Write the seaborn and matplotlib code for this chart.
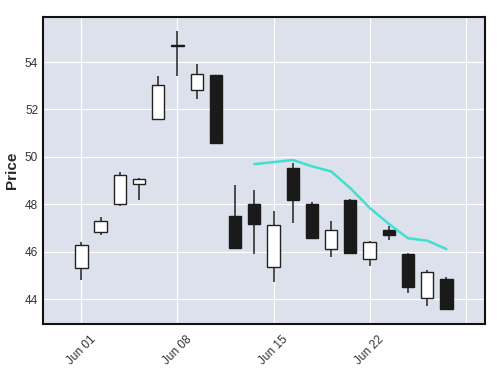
import pandas as pd
import matplotlib
matplotlib.use("Agg")
import matplotlib.pyplot as plt
import numpy as np
import seaborn as sns

# daily OHLC, June (trading days only)
dates = pd.bdate_range("2020-06-01", periods=20)
opens = [45.31, 46.81, 48.00, 48.86, 51.59, 54.70, 52.83, 53.44, 47.50, 48.02,
         45.35, 49.54, 48.00, 46.10, 48.18, 45.67, 46.90, 45.90, 44.05, 44.86]
highs = [46.42, 47.45, 49.37, 49.10, 53.40, 55.31, 53.93, 53.46, 48.82, 48.59,
         47.71, 49.73, 48.11, 47.30, 48.23, 46.45, 47.09, 45.94, 45.21, 44.93]
lows = [44.80, 46.71, 47.91, 48.16, 51.58, 53.41, 52.43, 50.58, 46.10, 45.90,
        44.73, 47.22, 46.57, 45.76, 45.93, 45.39, 46.48, 44.24, 43.70, 43.52]
closes = [46.27, 47.29, 49.22, 49.08, 53.02, 54.68, 53.48, 50.60, 46.14, 47.15,
          47.11, 48.18, 46.59, 46.90, 45.95, 46.41, 46.70, 44.51, 45.14, 43.58]

df = pd.DataFrame({"Open": opens, "High": highs, "Low": lows, "Close": closes}, index=dates)
df["idx"] = np.arange(len(df))
df["mav"] = df["Close"].rolling(10).mean()

sns.set_theme(style="darkgrid", rc={"axes.facecolor": "#DCE1EC", "grid.color": "white",
                                    "grid.linewidth": 0.9})
plt.rcParams["font.family"] = ["Liberation Sans", "DejaVu Sans"]

fig = plt.figure(figsize=(4.97, 3.71), dpi=100)
ax = fig.add_axes([0.0865, 0.127, 0.889, 0.827])

up = df["Close"] >= df["Open"]
body = (df["Close"] - df["Open"]).abs().clip(lower=0.04)
bottom = df[["Open", "Close"]].min(axis=1)

ax.vlines(df["idx"], df["Low"], df["High"], color="#222222", linewidth=1.1, zorder=2)
ax.bar(df["idx"][up], body[up], bottom=bottom[up], width=0.64,
       color="white", edgecolor="#222222", linewidth=1.0, zorder=3)
ax.bar(df["idx"][~up], body[~up], bottom=bottom[~up], width=0.64,
       color="#1a1a1a", edgecolor="#1a1a1a", linewidth=1.0, zorder=3)

sns.lineplot(x=df["idx"], y=df["mav"], color="#40E0D0", linewidth=1.8, ax=ax, zorder=4)

ticks = [0, 5, 10, 15, 20]
labels = [dates[i].strftime("%b %d") if i < len(dates) else "" for i in ticks]
ax.set_xticks(ticks)
ax.set_xticklabels(labels, rotation=45, fontsize=8.5, color="#333333")
ax.set_xlim(-2.0, 21.0)
ax.set_ylim(42.95, 55.9)
ax.set_yticks([44, 46, 48, 50, 52, 54])
ax.tick_params(axis="y", labelsize=8.5, labelcolor="#333333", length=0)
ax.tick_params(axis="x", length=0, pad=7)
ax.set_xlabel("")
ax.set_ylabel("Price", fontsize=11, fontweight="bold")

for s in ax.spines.values():
    s.set_visible(True)
    s.set_color("#111111")
    s.set_linewidth(1.5)

fig.savefig("out.png", dpi=100)
